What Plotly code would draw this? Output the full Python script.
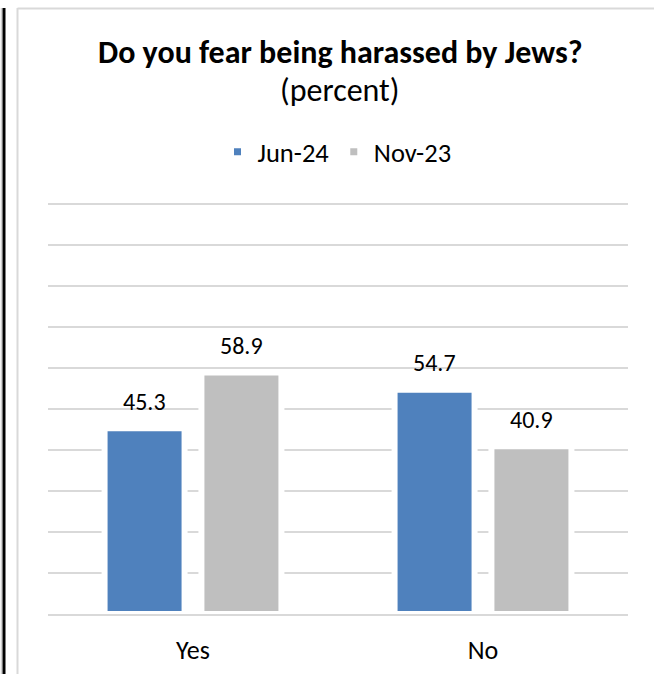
import plotly.graph_objects as go

# Survey answers and shares (percent)
categories = ["Yes", "No"]
series_names = ["Jun-24", "Nov-23"]
jun24_values = [45.3, 54.7]
nov23_values = [58.9, 40.9]
series_colors = ["#4F81BD", "#BFBFBF"]

FONT = "Carlito, Calibri, Lato, sans-serif"

# Plot area geometry in pixels (used to place frame lines in paper units)
W, H = 654, 674
L, R, T, B = 48, 26, 200, 60
PW, PH = W - L - R, H - T - B

# Horizontal distance from a category centre to each bar centre (px)
BAR_SHIFT = 48.4


def px_x(px):
    return (px - L) / PW


def px_y(py):
    return (H - B - py) / PH


fig = go.Figure()
for name, vals, col in zip(series_names, [jun24_values, nov23_values], series_colors):
    fig.add_trace(go.Bar(
        x=categories,
        y=vals,
        name=name,
        marker=dict(color=col, line=dict(color="white", width=6)),
        cliponaxis=False,
    ))

# Value labels above each bar
for k, vals in enumerate([jun24_values, nov23_values]):
    shift = -BAR_SHIFT if k == 0 else BAR_SHIFT
    for cat, v in zip(categories, vals):
        fig.add_annotation(
            x=cat, y=v, xref="x", yref="y",
            text=f"{v:.1f}", showarrow=False,
            xanchor="center", yanchor="middle",
            xshift=shift, yshift=27,
            font=dict(family=FONT, size=24, color="#000000"),
        )

fig.update_layout(
    width=W,
    height=H,
    margin=dict(l=L, r=R, t=T, b=B, pad=0, autoexpand=False),
    paper_bgcolor="white",
    plot_bgcolor="white",
    barmode="group",
    bargap=0.332,
    bargroupgap=0.174,
    showlegend=True,
    legend=dict(
        orientation="h",
        x=px_x(337),
        xanchor="center",
        y=px_y(152),
        yanchor="middle",
        font=dict(family=FONT, size=26.5, color="#000000"),
        itemwidth=30,
        tracegroupgap=0,
        traceorder="normal",
        bgcolor="rgba(0,0,0,0)",
    ),
    font=dict(family=FONT, color="#000000"),
)

fig.update_yaxes(
    range=[0, 101],
    tick0=0,
    dtick=10,
    showticklabels=False,
    showgrid=True,
    gridcolor="#D9D9D9",
    gridwidth=2,
    zeroline=False,
    showline=False,
    automargin=False,
    fixedrange=True,
)
fig.update_xaxes(
    showgrid=False,
    showline=True,
    linecolor="#D9D9D9",
    linewidth=2,
    layer="above traces",
    ticks="",
    ticklabelstandoff=12,
    automargin=False,
    tickfont=dict(family=FONT, size=26, color="#000000"),
    fixedrange=True,
)

# Chart title, two lines
fig.add_annotation(
    text="<b>Do you fear being harassed by Jews?</b>",
    xref="paper", yref="paper", x=px_x(340), y=px_y(52),
    xanchor="center", yanchor="middle", showarrow=False,
    font=dict(family=FONT, size=32, color="#000000"),
)
fig.add_annotation(
    text="(percent)",
    xref="paper", yref="paper", x=px_x(340), y=px_y(91),
    xanchor="center", yanchor="middle", showarrow=False,
    font=dict(family=FONT, size=32, color="#000000"),
)

# Frame lines around the chart object
frame = [
    (px_x(1.5), px_y(8), px_x(1.5), px_y(H), "#D0D0D0", 1.5),
    (px_x(4), px_y(8), px_x(4), px_y(H), "#000000", 3),
    (px_x(17.5), px_y(8), px_x(17.5), px_y(H), "#D9D9D9", 2),
    (px_x(17.5), px_y(8.5), px_x(W), px_y(8.5), "#D9D9D9", 2),
]
for x0, y0, x1, y1, c, w in frame:
    fig.add_shape(type="line", xref="paper", yref="paper",
                  x0=x0, y0=y0, x1=x1, y1=y1,
                  line=dict(color=c, width=w), layer="above")

fig.write_html("out.html", config={"displayModeBar": False})
